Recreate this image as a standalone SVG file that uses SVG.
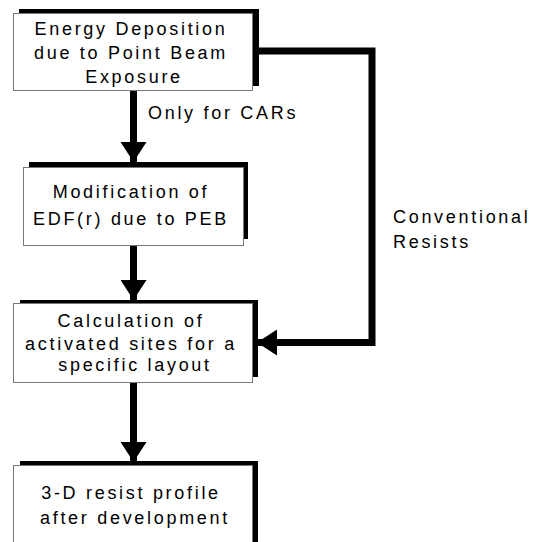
<svg xmlns="http://www.w3.org/2000/svg" width="541" height="542" viewBox="0 0 541 542">
<style>
.sh{fill:#000}
.bx{fill:#fff;stroke:#777;stroke-width:1}
.t{font-family:"Liberation Sans",Arial,sans-serif;font-size:18px;letter-spacing:2.7px;fill:#000}
.c{text-anchor:middle}
.ln{stroke:#000;stroke-width:7;fill:none}
</style>
<defs>
<marker id="ah" markerUnits="userSpaceOnUse" markerWidth="20" markerHeight="26" viewBox="0 0 20 26" refX="20" refY="13" orient="auto">
<path d="M0,0 L20,13 L0,26 Z" fill="#000"/>
</marker>
</defs>
<rect width="541" height="542" fill="#fff"/>
<g id="connectors">
<line class="ln" x1="133.5" y1="90" x2="133.5" y2="162" marker-end="url(#ah)"/>
<line class="ln" x1="133.5" y1="245" x2="133.5" y2="300" marker-end="url(#ah)"/>
<line class="ln" x1="133.5" y1="382" x2="133.5" y2="462" marker-end="url(#ah)"/>
<polyline class="ln" points="258,51 372,51 372,342.5 257,342.5" marker-end="url(#ah)"/>
</g>
<g id="node1">
<rect class="sh" x="19" y="9" width="240" height="77"/>
<rect class="bx" x="13.5" y="13.5" width="239" height="77"/>
<text class="t c" x="131" y="35">Energy Deposition</text>
<text class="t c" x="131" y="59">due to Point Beam</text>
<text class="t c" x="134" y="83">Exposure</text>
</g>
<g id="node2">
<rect class="sh" x="29" y="162" width="219" height="77"/>
<rect class="bx" x="23.5" y="167.5" width="220" height="78"/>
<text class="t c" x="131" y="198">Modification of</text>
<text class="t c" x="131" y="225">EDF(r) due to PEB</text>
</g>
<g id="node3">
<rect class="sh" x="20" y="300" width="238" height="77"/>
<rect class="bx" x="13.5" y="303.5" width="239" height="79"/>
<text class="t c" x="131" y="327">Calculation of</text>
<text class="t c" x="131" y="350">activated sites for a</text>
<text class="t c" x="135" y="371">specific layout</text>
</g>
<g id="node4">
<rect class="sh" x="20" y="461" width="238" height="100"/>
<rect class="bx" x="13.5" y="465.5" width="239" height="100"/>
<text class="t c" x="131" y="499">3-D resist profile</text>
<text class="t c" x="135" y="524">after development</text>
</g>
<g id="labels">
<text class="t" x="148" y="119">Only for CARs</text>
<text class="t" x="393" y="223">Conventional</text>
<text class="t" x="393" y="248">Resists</text>
</g>
</svg>
